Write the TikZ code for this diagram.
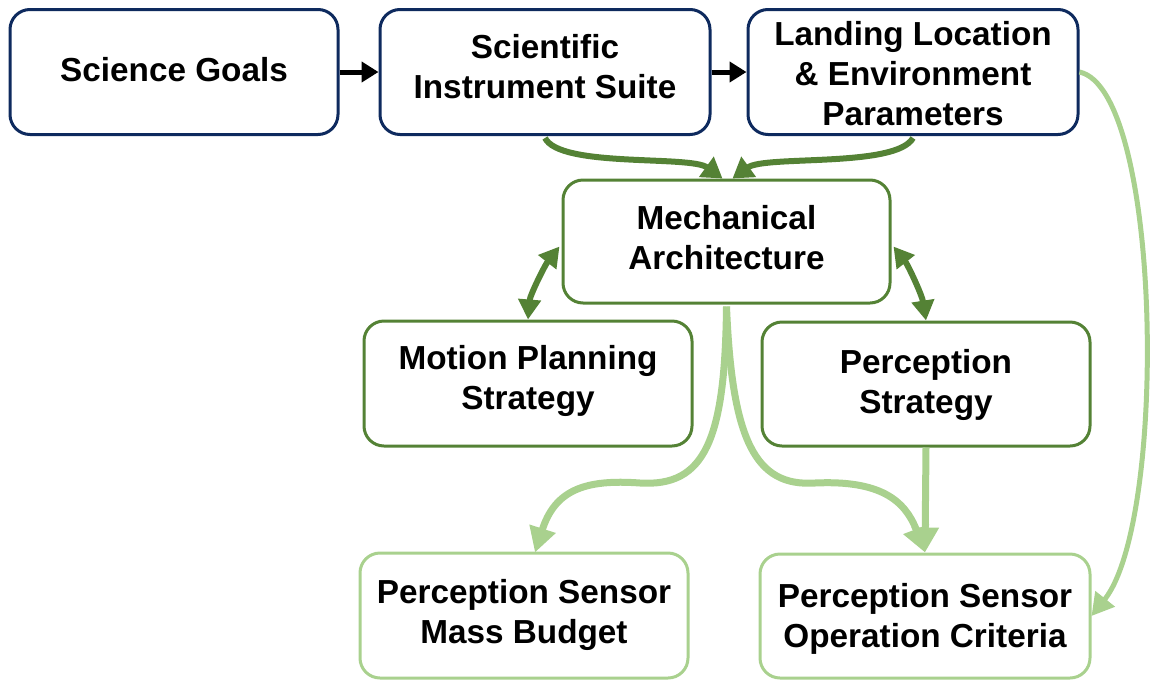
\documentclass[tikz,border=0pt]{standalone}
\usepackage{fontspec}
\setmainfont{Liberation Sans}
\usetikzlibrary{arrows.meta}
\definecolor{navy}{HTML}{0E2A5E}
\definecolor{dgreen}{HTML}{548235}
\definecolor{lgreen}{HTML}{A9D18E}
\tikzset{
  box/.style={draw, rounded corners=20pt, line width=3pt, fill=white,
    minimum width=328pt, minimum height=125pt, inner sep=0pt},
  txt/.style={align=center, font=\fontsize{33.3}{40}\selectfont\bfseries, inner sep=0pt},
  navybox/.style={box, draw=navy},
  dbox/.style={box, draw=dgreen},
  lbox/.style={box, draw=lgreen},
  blk/.style={line width=5pt, black, -{Triangle[length=17pt,width=20pt]}},
  dg/.style={line width=6pt, dgreen, -{Triangle[length=20pt,width=24pt]}},
  dgd/.style={line width=6pt, dgreen, {Triangle[length=20pt,width=22pt]}-{Triangle[length=20pt,width=22pt]}},
  lg/.style={line width=7pt, lgreen, -{Triangle[length=25pt,width=26pt]}},
  lgt/.style={line width=5pt, lgreen, -{Triangle[length=22pt,width=24pt]}}
}
\begin{document}
\begin{tikzpicture}[x=1pt,y=-1pt]
\useasboundingbox (0,0) rectangle (1157,681);
\node[navybox] (sg) at (174,72) {};
\node[txt] (sgt) at (174,70) {Science Goals};
\node[navybox, minimum width=330pt] (sis) at (545,72) {};
\node[txt] (sist) at (545,67) {Scientific\\Instrument Suite};
\node[navybox, minimum width=330pt] (land) at (913,72) {};
\node[txt] (landt) at (913,74) {Landing Location\\\& Environment\\Parameters};
\node[dbox, minimum width=327pt, minimum height=123pt] (mech) at (726.5,241.5) {};
\node[txt] (mecht) at (726.5,238) {Mechanical\\Architecture};
\node[dbox] (mot) at (528,383.5) {};
\node[txt] (mott) at (528,381) {Motion Planning\\Strategy};
\node[dbox, minimum height=124pt] (perc) at (926,384) {};
\node[txt] (perct) at (926,385) {Perception\\Strategy};
\node[lbox] (mass) at (524,615.5) {};
\node[txt] (masst) at (524,615) {Perception Sensor\\Mass Budget};
\node[lbox, minimum width=330pt, minimum height=124pt] (op) at (925,616) {};
\node[txt] (opt) at (925,619) {Perception Sensor\\Operation Criteria};

\draw[blk] (sg.east) -- (sis.west);
\draw[blk] (sis.east) -- (land.west);

\draw[dg] ([yshift=-2pt]sis.south) .. controls (560,168) and (690,155) .. ([xshift=-4pt]mech.north);
\draw[dg] ([yshift=-2pt]land.south) .. controls (896,168) and (765,155) .. ([xshift=6pt]mech.north);

\draw[dgd] ([yshift=-5pt,xshift=-2pt]mech.west) .. controls (545,265) and (530,295) .. (mot.north);
\draw[dgd] ([yshift=-5pt,xshift=2pt]mech.east) .. controls (908,265) and (922,295) .. (perc.north);

\draw[lg] ([yshift=-2pt]mech.south) .. controls (725,440) and (705,487) .. (640,483)
  .. controls (585,479) and (555,490) .. ([xshift=11pt]op.north -| mass.north);
\draw[lg] ([yshift=-2pt]mech.south) .. controls (732,440) and (755,487) .. (815,483)
  .. controls (880,480) and (905,500) .. (op.north);
\draw[lg] (perc.south) -- (op.north);
\draw[lgt] (land.east) .. controls (1162,90) and (1168,520) .. (op.east);
\end{tikzpicture}
\end{document}
